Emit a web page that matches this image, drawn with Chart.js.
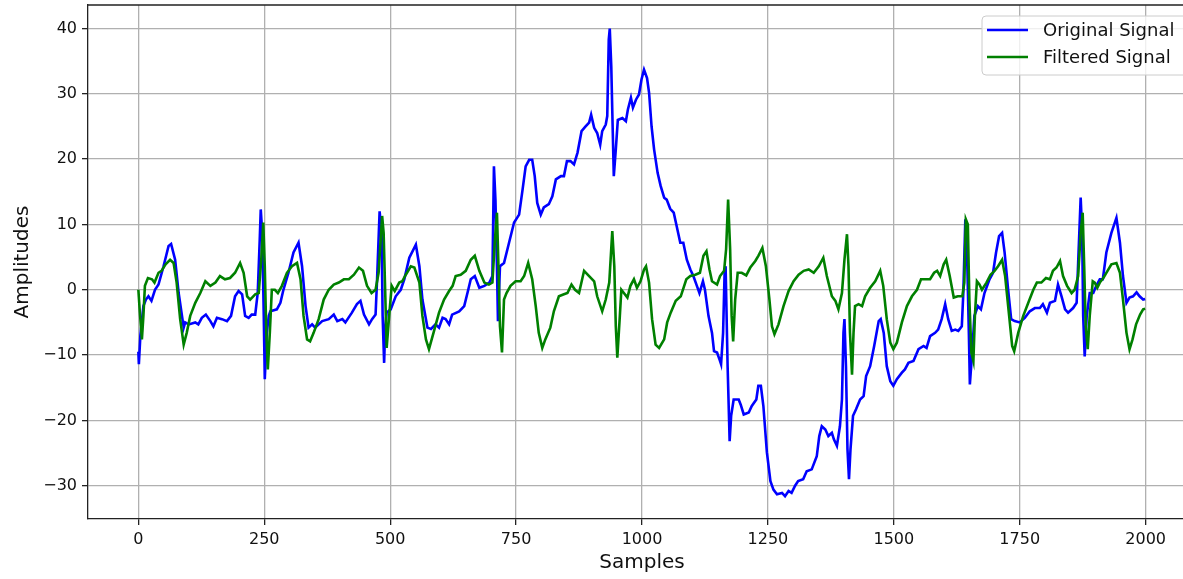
<!DOCTYPE html>
<html>
<head>
<meta charset="utf-8">
<title>Original vs Filtered Signal</title>
<script src="https://cdn.jsdelivr.net/npm/chart.js@4.4.0/dist/chart.umd.min.js"></script>
<style>
  html, body { margin: 0; padding: 0; background: #fff; overflow: hidden; }
  #wrap { width: 1200px; height: 579px; }
</style>
</head>
<body>
<div id="wrap"><canvas id="signalChart" width="1200" height="579"></canvas></div>
<script>
// Series names
const seriesNames = ["Original Signal", "Filtered Signal"]

// Original signal
const originalSamples = [
  0, 1, 4, 10, 15, 20, 26, 33, 40, 50, 60, 65, 73, 80, 90, 93, 100, 113, 119, 126,
  134, 143, 149, 156, 166, 176, 184, 192, 199, 206, 212, 219, 225, 232, 237, 241, 243, 246, 249, 251,
  255, 259, 262, 275, 282, 288, 298, 308, 318, 325, 332, 338, 345, 351, 365, 378, 388, 395, 405, 411,
  424, 434, 441, 448, 458, 464, 471, 474, 479, 483, 485, 488, 490, 493, 501, 511, 521, 528, 538, 551,
  558, 564, 574, 581, 590, 597, 604, 610, 617, 623, 637, 647, 655, 660, 668, 677, 687, 697, 703, 706,
  709, 712, 714, 718, 726, 736, 746, 756, 763, 769, 776, 782, 787, 792, 799, 805, 815, 822, 829, 839,
  845, 851, 858, 865, 872, 880, 888, 895, 899, 905, 911, 917, 921, 928, 931, 934, 936, 939, 942, 944,
  948, 952, 961, 968, 972, 978, 982, 988, 994, 999, 1004, 1010, 1014, 1019, 1024, 1031, 1037, 1044, 1049, 1056,
  1063, 1069, 1076, 1082, 1089, 1096, 1102, 1109, 1114, 1121, 1125, 1132, 1139, 1143, 1149, 1154, 1157, 1161, 1164, 1166,
  1170, 1174, 1177, 1182, 1192, 1196, 1202, 1212, 1218, 1227, 1231, 1236, 1241, 1248, 1255, 1261, 1268, 1278, 1284, 1291,
  1297, 1304, 1310, 1320, 1327, 1337, 1347, 1352, 1357, 1364, 1370, 1377, 1381, 1387, 1393, 1397, 1400, 1402, 1405, 1408,
  1411, 1414, 1419, 1425, 1433, 1440, 1445, 1453, 1461, 1470, 1474, 1480, 1486, 1493, 1499, 1506, 1516, 1522, 1529, 1539,
  1549, 1559, 1565, 1572, 1582, 1588, 1595, 1602, 1608, 1615, 1622, 1628, 1635, 1638, 1642, 1646, 1649, 1651, 1656, 1660,
  1667, 1673, 1680, 1690, 1697, 1703, 1709, 1715, 1720, 1727, 1733, 1740, 1750, 1760, 1770, 1780, 1790, 1796, 1804, 1810,
  1820, 1826, 1833, 1840, 1846, 1856, 1863, 1866, 1871, 1874, 1876, 1879, 1883, 1889, 1896, 1902, 1909, 1915, 1922, 1932,
  1942, 1949, 1955, 1962, 1968, 1975, 1982, 1988, 1995, 1999,
]
const originalValues = [
  -9.5, -11.4, -7, -2.5, -1.5, -1, -1.7, 0, 0.8, 3.6, 6.7, 7, 4.6, -0.5, -5.8, -5, -5.3, -5, -5.3, -4.3,
  -3.8, -4.8, -5.6, -4.3, -4.5, -4.8, -4, -1, -0.2, -0.7, -4, -4.3, -3.8, -3.8, -0.5, 7.7, 12.3, 8.7, -4, -13.7,
  -6.6, -4, -3.3, -3, -2, 0, 2.6, 5.7, 7.2, 3.6, -2.5, -5.8, -5.3, -5.8, -4.8, -4.5, -3.8, -4.8, -4.5, -5,
  -3.5, -2.2, -1.7, -3.8, -5.3, -4.5, -3.8, 1.6, 12, 8.7, -4, -11.2, -6, -3.5, -3, -1, 0, 1.6, 4.9, 6.9,
  3.6, -1.5, -5.8, -6, -5.3, -5.8, -4.3, -4.5, -5.3, -3.8, -3.3, -2.5, 0, 1.6, 2.1, 0.3, 0.6, 1.1, 2.1, 18.9,
  13.8, 3.6, -4.8, 3.6, 4.1, 7.2, 10.3, 11.5, 15.4, 18.9, 19.9, 19.9, 17.4, 13.3, 11.5, 12.6, 13.1, 14.3, 16.9, 17.4,
  17.4, 19.7, 19.7, 19.2, 21, 24.3, 25, 25.6, 26.8, 24.8, 24, 22.2, 24.3, 25.3, 26.6, 38.3, 40, 34.2, 24, 17.4,
  21.5, 26, 26.3, 25.8, 27.6, 29.4, 27.9, 29.1, 29.9, 32.2, 33.7, 32.4, 30.2, 25, 21.5, 17.9, 15.9, 14.1, 13.8, 12.4,
  11.8, 9.7, 7.2, 7.2, 4.6, 3.1, 2.1, 0.6, -0.5, 1.3, 0, -4, -6.6, -9.4, -9.6, -10.7, -11.4, -6.6, 2.6, 3.6,
  -11.7, -23.2, -19.3, -16.8, -16.8, -17.6, -19.1, -18.8, -17.8, -16.8, -14.7, -14.7, -17.8, -24.9, -29.3, -30.6, -31.3, -31.1, -31.6, -30.8,
  -31.1, -30, -29.3, -29, -27.8, -27.5, -25.5, -22.4, -20.9, -21.4, -22.4, -21.9, -22.9, -23.9, -20.9, -16.8, -6.6, -4.5, -11.7, -24.4,
  -29, -24.4, -19.3, -18.3, -16.8, -16.3, -13.2, -11.7, -8.6, -4.8, -4.5, -6.6, -11.7, -14, -14.7, -13.7, -12.7, -12.2, -11.2, -10.9,
  -9.1, -8.6, -8.9, -7.1, -6.6, -6.1, -4.5, -2.2, -4.5, -6.3, -6.1, -6.3, -5.6, -0.5, 10.8, 3.6, -6.6, -14.5, -9.1, -4,
  -2.5, -3, -0.5, 1.6, 2.6, 5.7, 8.2, 8.7, 5.7, 0, -4.5, -4.8, -5, -4.3, -3.3, -2.8, -2.8, -2.2, -3.5, -2,
  -1.7, 0.8, -1, -3, -3.5, -2.8, -2, 4.1, 14.1, 8.7, -4, -10.2, -4, -0.5, -0.5, 0.6, 1.6, 1.6, 5.7, 8.7,
  11, 7.2, 2.1, -2, -1.2, -1, -0.4, -1, -1.5, -1.4,
]

// Filtered signal
const filteredSamples = [
  0, 3, 7, 10, 13, 19, 27, 32, 40, 46, 54, 63, 70, 76, 83, 90, 96, 103, 113, 123,
  133, 143, 153, 162, 172, 182, 192, 202, 209, 216, 222, 232, 239, 244, 248, 251, 254, 257, 261, 265,
  271, 277, 285, 295, 305, 315, 322, 328, 335, 341, 348, 358, 368, 378, 388, 398, 408, 418, 428, 438,
  446, 454, 463, 471, 477, 484, 487, 490, 493, 498, 503, 509, 518, 524, 531, 541, 548, 558, 564, 571,
  577, 586, 597, 607, 617, 624, 630, 640, 650, 660, 668, 677, 687, 696, 703, 708, 712, 715, 718, 722,
  726, 731, 739, 749, 759, 766, 774, 782, 789, 795, 802, 808, 818, 825, 835, 845, 852, 860, 867, 875,
  885, 895, 905, 911, 921, 928, 935, 941, 945, 948, 951, 956, 959, 964, 971, 977, 984, 990, 997, 1004,
  1008, 1014, 1020, 1027, 1034, 1044, 1050, 1057, 1067, 1077, 1088, 1096, 1106, 1115, 1122, 1128, 1134, 1139, 1149, 1155,
  1163, 1167, 1171, 1175, 1178, 1181, 1185, 1190, 1198, 1207, 1215, 1225, 1231, 1239, 1246, 1253, 1258, 1263, 1271, 1281,
  1291, 1301, 1311, 1321, 1331, 1341, 1351, 1360, 1367, 1377, 1384, 1390, 1397, 1402, 1407, 1410, 1413, 1417, 1420, 1423,
  1430, 1437, 1443, 1453, 1463, 1473, 1479, 1486, 1493, 1499, 1506, 1516, 1526, 1536, 1546, 1554, 1562, 1572, 1580, 1586,
  1592, 1599, 1604, 1611, 1619, 1627, 1636, 1640, 1643, 1647, 1650, 1654, 1658, 1661, 1665, 1670, 1675, 1684, 1692, 1700,
  1707, 1715, 1721, 1729, 1735, 1739, 1747, 1757, 1767, 1777, 1784, 1793, 1802, 1810, 1816, 1823, 1830, 1836, 1844, 1853,
  1859, 1866, 1871, 1875, 1878, 1881, 1885, 1889, 1895, 1899, 1904, 1909, 1916, 1922, 1932, 1942, 1949, 1955, 1962, 1968,
  1974, 1981, 1989, 1995, 1999,
]
const filteredValues = [
  0, -3.5, -7.6, -4, 0.6, 1.8, 1.6, 1.1, 2.6, 2.9, 3.9, 4.6, 4.1, 1.1, -4.5, -8.4, -6.6, -4, -2, -0.5,
  1.3, 0.6, 1.1, 2.1, 1.6, 1.8, 2.6, 4.1, 2.6, -1, -1.5, -0.7, -0.5, 4.6, 10.3, 3.6, -6.6, -12.2, -6.6, 0,
  0, -0.5, 0.6, 2.6, 3.6, 4.1, 1.6, -4, -7.6, -7.9, -6.6, -4.5, -1.5, 0, 0.8, 1.1, 1.6, 1.6, 2.3, 3.4,
  2.9, 0.6, -0.5, 0, 2.6, 11.3, 8.7, 0, -8.9, -4, 0.6, -0.2, 1.1, 1.3, 2.3, 3.6, 3.4, 1.1, -4, -7.6,
  -9.1, -6.6, -3.5, -1.5, -0.2, 0.6, 2.1, 2.3, 2.9, 4.6, 5.2, 2.9, 1.1, 0.8, 1.1, 7.7, 11.8, 3.6, -5.6, -9.6,
  -1.5, -0.5, 0.6, 1.3, 1.3, 2.1, 4.1, 1.6, -2.5, -6.6, -8.9, -7.6, -5.8, -3.3, -1, -0.7, -0.5, 0.8, 0, -0.5,
  2.9, 2.1, 1.3, -1, -3.3, -1.5, 1.1, 9, 3.6, -5.6, -10.4, -4, 0, -0.5, -1.2, 0.6, 1.6, 0.3, 1.3, 3.1,
  3.6, 1.1, -4.5, -8.4, -8.9, -7.6, -5, -3.5, -1.7, -1, 1.6, 2.1, 2.3, 2.6, 5.2, 5.9, 3.1, 1.3, 0.8, 2.1,
  2.9, 6.2, 13.8, 6.2, -4, -7.9, -1.5, 2.6, 2.6, 2.2, 3.4, 4.4, 5.2, 6.4, 3.6, -1.5, -5.6, -6.8, -5.3, -2.5,
  -0.2, 1.3, 2.3, 2.9, 3.1, 2.6, 3.6, 4.9, 2.1, -1, -1.7, -3, -0.5, 4.6, 8.5, 3.6, -6.6, -13, -6.6, -2.5,
  -2.2, -2.5, -1, 0.3, 1.3, 2.9, 0.6, -4.5, -8.1, -9.1, -8.1, -5, -2.5, -1, 0, 1.6, 1.6, 1.6, 2.6, 2.9,
  2.1, 3.9, 4.6, 2.1, -1.2, -1, -1, 1.1, 10.8, 10, -1.5, -9.6, -10.9, -4, 1.3, 0.8, 0, 1.1, 2.3, 2.9,
  3.6, 4.6, 2.1, -4, -8.6, -9.4, -6.6, -4, -2, 0, 1.1, 1.1, 1.8, 1.6, 2.9, 3.4, 4.4, 2.1, 0.6, -0.5,
  0, 2.1, 8.7, 11.8, 3.6, -5.6, -9.1, -4, 1.3, 1.1, 0.3, 1.1, 1.8, 2.6, 3.9, 4.1, 2.6, -1.5, -6.6, -9.1,
  -7.6, -5.3, -3.8, -3, -2.9,
]

// Axis ticks
const xTicks = [0, 250, 500, 750, 1000, 1250, 1500, 1750, 2000]
const yTicks = [-30, -20, -10, 0, 10, 20, 30, 40]

const toPoints = (xs, ys) => xs.map((x, i) => ({ x: x, y: ys[i] }))

Chart.defaults.font.family = "'DejaVu Sans', sans-serif"
Chart.defaults.color = "#111"

// matplotlib style legend box in the upper right corner
const legendBox = {
  id: "legendBox",
  afterDatasetsDraw(chart) {
    const ctx = chart.ctx
    const area = chart.chartArea
    const boxRight = area.right - 8
    const boxLeft = boxRight - 206
    const boxTop = area.top + 11
    const boxHeight = 59
    ctx.save()
    ctx.beginPath()
    ctx.roundRect(boxLeft, boxTop, boxRight - boxLeft, boxHeight, 4)
    ctx.fillStyle = "rgba(255, 255, 255, 0.8)"
    ctx.fill()
    ctx.strokeStyle = "#cccccc"
    ctx.lineWidth = 1
    ctx.stroke()

    ctx.font = "18px 'DejaVu Sans', sans-serif"
    ctx.textBaseline = "middle"
    ctx.textAlign = "left"
    seriesNames.forEach((name, i) => {
      const ds = chart.data.datasets.find((d) => d.label === name)
      const y = boxTop + 14 + i * 27
      ctx.beginPath()
      ctx.moveTo(boxLeft + 5, y)
      ctx.lineTo(boxLeft + 46, y)
      ctx.strokeStyle = ds.borderColor
      ctx.lineWidth = 2.6
      ctx.stroke()
      ctx.fillStyle = "#111"
      ctx.fillText(name, boxLeft + 61, y + 1)
    })
    ctx.restore()
  },
  afterDraw(chart) {
    // top and right frame lines
    const ctx = chart.ctx
    const area = chart.chartArea
    ctx.save()
    ctx.strokeStyle = "#222"
    ctx.lineWidth = 1.3
    ctx.beginPath()
    ctx.moveTo(area.left, area.top)
    ctx.lineTo(area.right, area.top)
    ctx.lineTo(area.right, area.bottom)
    ctx.stroke()
    ctx.restore()
  },
}

const chart = new Chart(document.getElementById("signalChart"), {
  type: "line",
  data: {
    datasets: [
      {
        label: seriesNames[0],
        data: toPoints(originalSamples, originalValues),
        borderColor: "#0000ff",
        borderWidth: 2.6,
        pointRadius: 0,
        tension: 0,
        fill: false,
        order: 1,
      },
      {
        label: seriesNames[1],
        data: toPoints(filteredSamples, filteredValues),
        borderColor: "#008000",
        borderWidth: 2.6,
        pointRadius: 0,
        tension: 0,
        fill: false,
        order: 0,
      },
    ],
  },
  options: {
    responsive: false,
    animation: false,
    devicePixelRatio: 1,
    layout: {
      padding: { top: 5, right: 4, left: 0, bottom: 0 },
    },
    plugins: {
      legend: { display: false },
      tooltip: { enabled: false },
    },
    scales: {
      x: {
        type: "linear",
        min: -100,
        max: 2100,
        afterBuildTicks: (scale) => {
          scale.ticks = xTicks.map((v) => ({ value: v }))
        },
        afterFit: (scale) => {
          scale.height = 60
          scale.paddingLeft = 0
          scale.paddingRight = 0
        },
        grid: {
          color: "#b0b0b0",
          lineWidth: 1.3,
          tickColor: "#222",
          tickLength: 6,
          tickWidth: 1.3,
        },
        border: { color: "#222", width: 1.3 },
        ticks: {
          padding: 5,
          maxRotation: 0,
          font: { size: 16 },
          color: "#111",
          callback: (v) => String(v),
        },
        title: {
          display: true,
          text: "Samples",
          font: { size: 20 },
          color: "#111",
          padding: { top: 0, bottom: 4 },
        },
      },
      y: {
        type: "linear",
        min: -35.1,
        max: 43.6,
        afterBuildTicks: (scale) => {
          scale.ticks = yTicks.map((v) => ({ value: v }))
        },
        afterFit: (scale) => {
          scale.width = 88
          scale.paddingTop = 0
          scale.paddingBottom = 0
        },
        grid: {
          color: "#b0b0b0",
          lineWidth: 1.3,
          tickColor: "#222",
          tickLength: 6,
          tickWidth: 1.3,
        },
        border: { color: "#222", width: 1.3 },
        ticks: {
          padding: 5,
          font: { size: 16 },
          color: "#111",
          callback: (v) => (v < 0 ? "\u2212" + Math.abs(v) : String(v)),
        },
        title: {
          display: true,
          text: "Amplitudes",
          font: { size: 20 },
          color: "#111",
          padding: { top: 11, bottom: 0 },
        },
      },
    },
  },
  plugins: [legendBox],
})
</script>
</body>
</html>
